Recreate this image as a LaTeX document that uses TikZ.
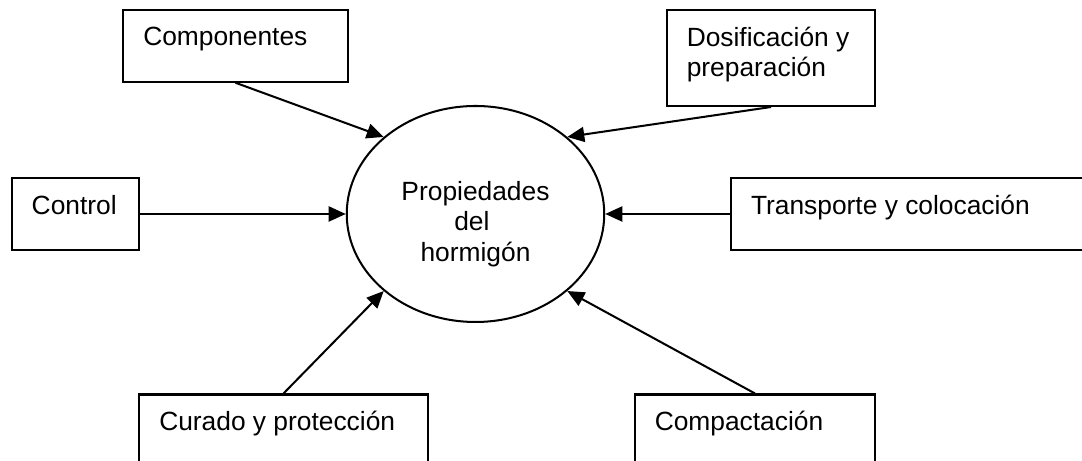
\documentclass[tikz,border=0pt]{standalone}
\usepackage{fontspec}
\setmainfont{Liberation Sans}
\usetikzlibrary{arrows.meta,shapes.geometric}
\begin{document}
\begin{tikzpicture}[line width=1.15pt,font=\fontsize{15pt}{17.25pt}\selectfont,
  factor/.style={draw,inner sep=0pt,minimum height=1.43cm},
  boxtext/.style={anchor=north west,inner sep=0pt,align=left,xshift=.4cm,yshift=-.34cm},
  influence/.style={-{Triangle[length=.34cm,width=.3cm]}}]
  \useasboundingbox (0,0) rectangle (21.64,9.22);
  \clip (0,0) rectangle (21.64,9.22);
  \node[ellipse,draw,inner sep=0pt,minimum width=5.15cm,minimum height=4.32cm,
    label={[align=center,inner sep=0pt,yshift=-.2cm]center:Propiedades\\\mbox{del\ }\\hormigón}] (prop) at (9.51,4.94) {};
  \node[factor,minimum width=4.49cm,label={[boxtext]north west:Componentes}] (comp) at (4.71,8.30) {};
  \node[factor,minimum width=2.55cm,label={[boxtext]north west:Control}] (ctrl) at (1.51,4.94) {};
  \node[factor,minimum width=4.17cm,minimum height=1.92cm,
    label={[boxtext]north west:Dosificación y\\preparación}] (dosif) at (15.42,8.06) {};
  \node[factor,minimum width=7.58cm,label={[boxtext]north west:Transporte y colocación}] (transp) at (18.41,4.94) {};
  \node[factor,minimum width=5.77cm,minimum height=1.92cm,
    label={[boxtext]north west:Curado y protección}] (cur) at (5.67,.37) {};
  \node[factor,minimum width=4.81cm,minimum height=1.92cm,
    label={[boxtext]north west:Compactación}] (compa) at (15.10,.37) {};
  \draw[influence] (comp.south) -- (prop.140);
  \draw[influence] (dosif.south) -- (prop.40);
  \draw[influence] (ctrl.east) -- (prop.west);
  \draw[influence] (transp.west) -- (prop.east);
  \draw[influence] (cur.north) -- (prop.220);
  \draw[influence] (compa.north) -- (prop.320);
\end{tikzpicture}
\end{document}
